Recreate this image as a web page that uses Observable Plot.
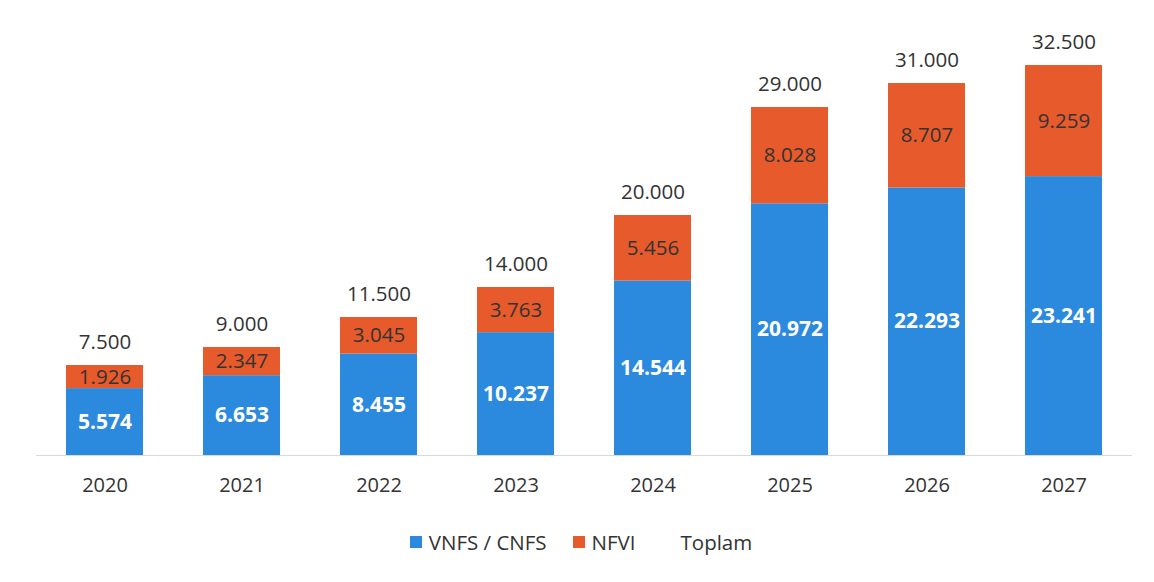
<!DOCTYPE html>
<html>
<head>
<meta charset="utf-8">
<script src="https://cdn.jsdelivr.net/npm/d3@7"></script>
<script src="https://cdn.jsdelivr.net/npm/@observablehq/plot@0.6"></script>
<style>
  body { margin: 0; background: #fff; font-family: "Open Sans", sans-serif; }
  #legend { display: flex; justify-content: center; align-items: center; height: 54px; font-size: 20.5px; color: #333; padding-left: 8px; }
  #legend span.item { display: inline-flex; align-items: center; margin: 0 13px; }
  #legend i { display: inline-block; width: 12px; height: 12px; margin-right: 7px; }
</style>
</head>
<body>
<div id="chart"></div>
<div id="legend"></div>
<script>
const years = ["2020", "2021", "2022", "2023", "2024", "2025", "2026", "2027"];
const vnfs = [5574, 6653, 8455, 10237, 14544, 20972, 22293, 23241];
const nfvi = [1926, 2347, 3045, 3763, 5456, 8028, 8707, 9259];
const totals = [7500, 9000, 11500, 14000, 20000, 29000, 31000, 32500];
const seriesNames = ["VNFS / CNFS", "NFVI", "Toplam"];
const colors = ["#2b8ade", "#e65a2b"];

const fmt = d3.formatLocale({decimal: ",", thousands: ".", grouping: [3], currency: ["", ""]}).format(",d");

const segs = [];
years.forEach((yr, i) => {
  segs.push({year: yr, series: seriesNames[0], y1: 0, y2: vnfs[i], v: vnfs[i]});
  segs.push({year: yr, series: seriesNames[1], y1: vnfs[i], y2: vnfs[i] + nfvi[i], v: nfvi[i]});
});
const totalRows = years.map((yr, i) => ({year: yr, total: totals[i]}));

const chart = Plot.plot({
  width: 1154,
  height: 515,
  marginTop: 65,
  marginBottom: 60,
  marginLeft: 36,
  marginRight: 22,
  style: {fontFamily: "Open Sans, sans-serif", fontSize: "20px", color: "#333", background: "#fff"},
  x: {domain: years, paddingInner: 0.44, paddingOuter: 0.22, label: null},
  y: {domain: [0, 32500], axis: null},
  color: {domain: seriesNames.slice(0, 2), range: colors},
  marks: [
    Plot.ruleY([0], {stroke: "#d9d9d9", strokeWidth: 1}),
    Plot.barY(segs, {x: "year", y1: "y1", y2: "y2", fill: "series"}),
    Plot.text(segs.filter(d => d.series === seriesNames[0]), {x: "year", y: d => (d.y1 + d.y2) / 2, text: d => fmt(d.v), fill: "white", fontWeight: "bold", fontSize: 21}),
    Plot.text(segs.filter(d => d.series === seriesNames[1]), {x: "year", y: d => (d.y1 + d.y2) / 2, text: d => fmt(d.v), fill: "#333", fontSize: 20.5}),
    Plot.text(totalRows, {x: "year", y: "total", text: d => fmt(d.total), dy: -23, fill: "#333", fontSize: 20.5}),
    Plot.axisX({tickSize: 0, tickPadding: 22, fontSize: 20, fill: "#333"})
  ]
});
document.getElementById("chart").appendChild(chart);

const legend = document.getElementById("legend");
seriesNames.forEach((name, i) => {
  const item = document.createElement("span");
  item.className = "item";
  const sw = document.createElement("i");
  sw.style.background = colors[i] || "transparent";
  item.appendChild(sw);
  item.appendChild(document.createTextNode(name));
  legend.appendChild(item);
});
</script>
</body>
</html>
